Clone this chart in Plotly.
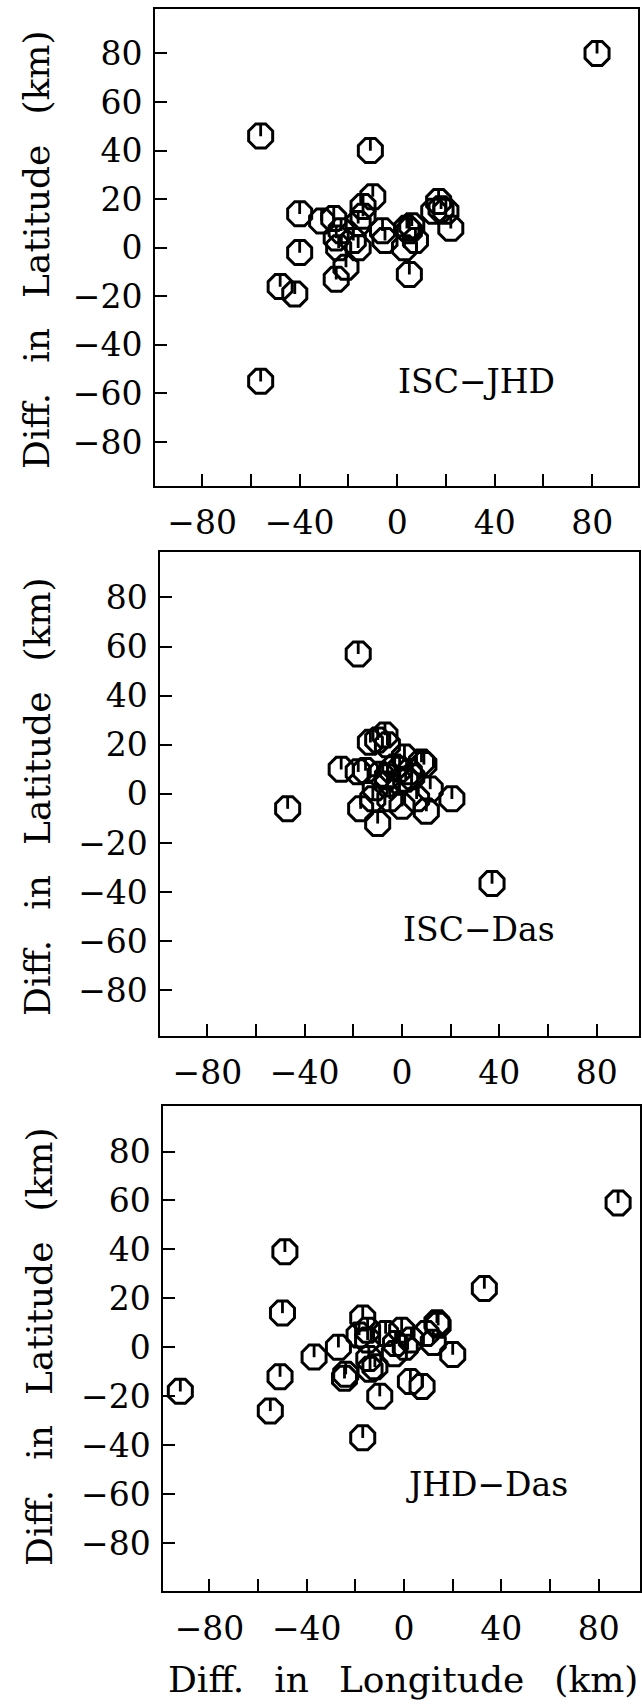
import plotly.graph_objects as go

# ---------------- data (km) ----------------
isc_jhd_lon = [82, -56, -11, -56, -10, -40, -31, -26, -14, -14, -16, -6, -5, 6, 5, 4, 7.5, 3,
               5, 17, 18, 20, 15, 22, -40, -48, -42, -25, -21, -25, -24, -16, -18, -23]
isc_jhd_lat = [80, 46, 40, -55, 21, 14, 11, 12, 17, 13, 10, 7, 3, 9, 7, 8, 3, 0,
               -11, 19, 16, 15, 15, 8, -2, -16, -19, -13, -8, 4, 0, 0, 3, 7]

isc_das_lon = [-18, -47, 37, -25, 20.5, -10, -17, 10, -13, -7, -6, -10, 1, 8, 9, -15, -9, -6,
               -1, 1.5, 4, -1, -6, -11, 11.6, -12, -5, 0, 6, -18, -3, 3]
isc_das_lat = [57, -6, -36.5, 10, -2, -12, -6, -7, 21, 24, 20, 22, 15, 13, 12, 9.5, 8, 7,
               10, 6, 7, 5, 4, 2.5, 2, -2, -2, -5, -2, 9, 11, 9]

jhd_das_lon = [88, -49, -92, 33, -50, -17, -37, -27, -18.5, -15, -15, -7.6, -1, -3.5, -4, 3, 0.5,
               9, 13.5, 14, 12, 20, -14.5, -12, -14, -24, -24.5, 2.6, 7.4, -10, -17, -51, -55]
jhd_das_lat = [59, 39, -18, 24, 14, 12, -4, 0, 5, 7, 3, 5.6, 7, 1.5, -2.6, 3, 0,
               5.6, 10, 9, 2, -3, -4.6, -8, -9, -11, -12.7, -14, -16, -20, -37, -12, -26]

panel_labels = ["ISC\u2212JHD", "ISC\u2212Das", "JHD\u2212Das"]
label_pos = [(32.6, -55), (31.8, -55), (34.3, -56)]

x_tickvals = [-80, -60, -40, -20, 0, 20, 40, 60, 80]
x_ticktext = ["\u221280", "", "\u221240", "", "0", "", "40", "", "80"]
y_tickvals = [-80, -60, -40, -20, 0, 20, 40, 60, 80]
y_ticktext = ["\u221280", "\u221260", "\u221240", "\u221220", "0", "20", "40", "60", "80"]

SP = "\u00a0\u00a0\u2009"
y_title = SP.join(["Diff.", "in", "Latitude", "(km)"])
x_title = SP.join(["Diff.", "in", "Longitude", "(km)"])

# ---------------- layout geometry ----------------
W, H = 642, 1704
FONT = "DejaVu Serif"
panels = [
    dict(lon=isc_jhd_lon, lat=isc_jhd_lat, xd=(155.6, 639.5), yd=(8.7, 485.8),
         xr=(-99.3, 98.6), yr=(-98, 98.4), ytx=36, yty=250),
    dict(lon=isc_das_lon, lat=isc_das_lat, xd=(160.9, 641.0), yd=(552, 1035.6),
         xr=(-99.3, 97.4), yr=(-98.4, 98.5), ytx=37, yty=797),
    dict(lon=jhd_das_lon, lat=jhd_das_lat, xd=(163.8, 642.0), yd=(1105.5, 1591),
         xr=(-99, 97), yr=(-99.6, 98.8), ytx=39, yty=1347),
]

fig = go.Figure()
layout = dict(width=W, height=H, margin=dict(l=0, r=0, t=0, b=0),
              paper_bgcolor="white", plot_bgcolor="white", showlegend=False,
              font=dict(family=FONT, color="black"))
annotations = []

for i, p in enumerate(panels):
    n = "" if i == 0 else str(i + 1)
    xa, ya = "x" + n, "y" + n
    fig.add_trace(go.Scatter(
        x=p["lon"], y=p["lat"], mode="markers", xaxis=xa, yaxis=ya,
        marker=dict(symbol="octagon-open", size=26, color="black",
                    line=dict(width=3, color="black")),
        hoverinfo="skip"))
    fig.add_trace(go.Scatter(
        x=p["lon"], y=p["lat"], mode="markers", xaxis=xa, yaxis=ya,
        marker=dict(symbol="line-ns", size=8.5, angle=180, standoff=5.8, color="black",
                    line=dict(width=2.8, color="black")),
        hoverinfo="skip"))
    axcommon = dict(showline=True, mirror=True, linecolor="black", linewidth=2,
                    ticks="inside", ticklen=12, tickwidth=2, tickcolor="black",
                    showgrid=False, zeroline=False, tickmode="array",
                    tickfont=dict(family=FONT, size=33, color="black"))
    layout["xaxis" + n] = dict(axcommon, domain=[p["xd"][0] / W, p["xd"][1] / W],
                               range=list(p["xr"]), tickvals=x_tickvals, ticktext=x_ticktext,
                               anchor=ya, ticklabelstandoff=7)
    layout["yaxis" + n] = dict(axcommon, domain=[1 - p["yd"][1] / H, 1 - p["yd"][0] / H],
                               range=list(p["yr"]), tickvals=y_tickvals, ticktext=y_ticktext,
                               anchor=xa, ticklabelstandoff=4)
    lx, ly = label_pos[i]
    annotations.append(dict(text=panel_labels[i], x=lx, y=ly, xref=xa, yref=ya,
                            showarrow=False, font=dict(family=FONT, size=33, color="black"),
                            xanchor="center", yanchor="middle"))
    annotations.append(dict(text=y_title, x=p["ytx"] / W, y=1 - p["yty"] / H,
                            xref="paper", yref="paper", textangle=-90, showarrow=False,
                            font=dict(family=FONT, size=36, color="black"),
                            xanchor="center", yanchor="middle"))

annotations.append(dict(text=x_title, x=404 / W, y=1 - 1679 / H, xref="paper", yref="paper",
                        showarrow=False, font=dict(family=FONT, size=36, color="black"),
                        xanchor="center", yanchor="middle"))
layout["annotations"] = annotations
fig.update_layout(**layout)
fig.write_html("out.html")
